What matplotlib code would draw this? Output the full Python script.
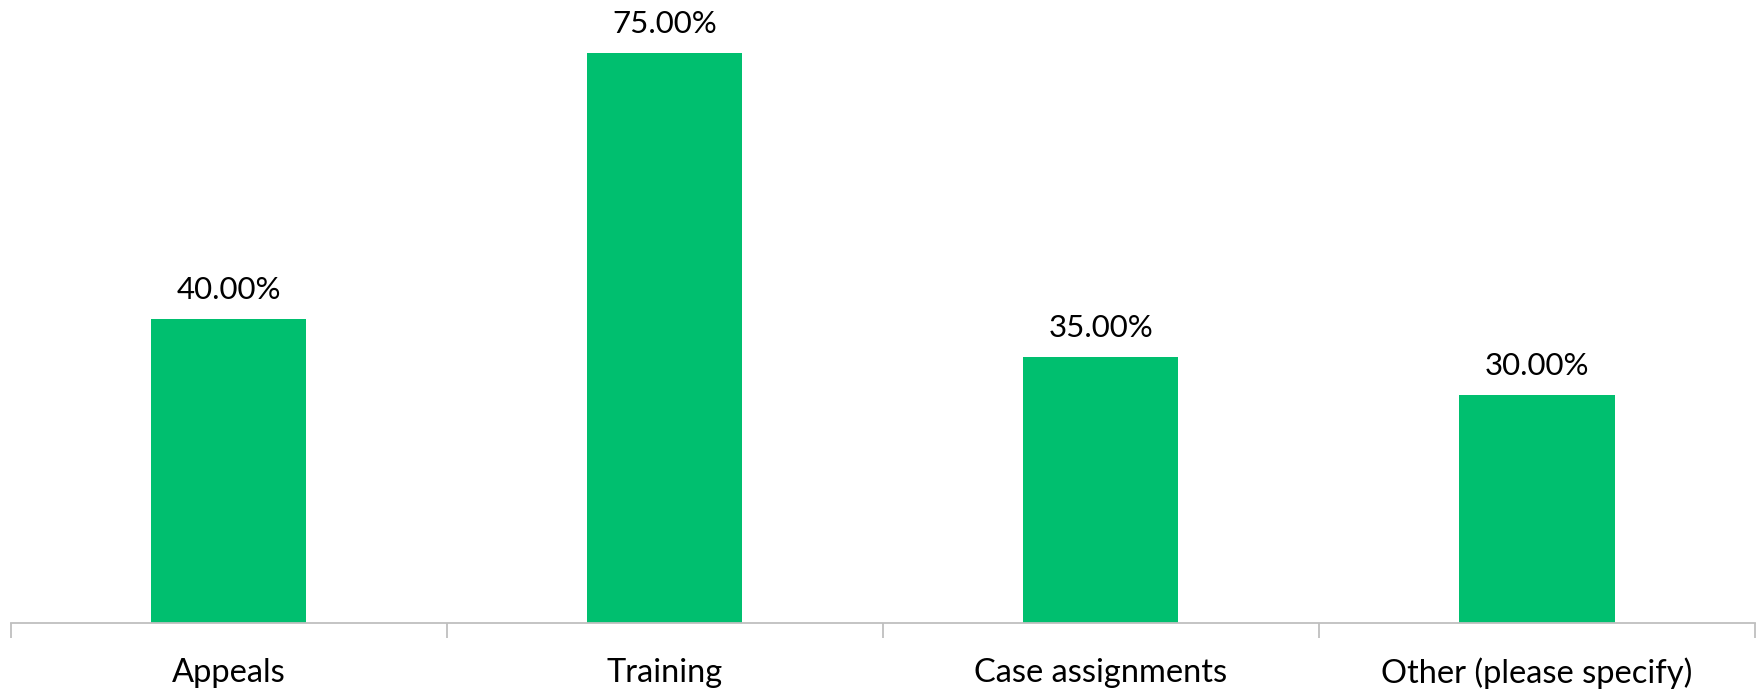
import matplotlib.pyplot as plt

# data
categories = ['Appeals', 'Training', 'Case assignments', 'Other (please specify)']
values = [40.0, 75.0, 35.0, 30.0]

bar_color = '#00BF6F'
axis_color = '#BFBFBF'

plt.rcParams['font.family'] = ['Lato', 'DejaVu Sans']

fig = plt.figure(figsize=(17.6, 6.9), dpi=100)
ax = fig.add_axes([10.5 / 1760, 1 - 623 / 690, (1755 - 10.5) / 1760, 608 / 690])

x = range(len(categories))
bars = ax.bar(x, values, width=0.356, color=bar_color, zorder=2)

for b, v in zip(bars, values):
    ax.annotate(f'{v:.2f}%', (b.get_x() + b.get_width() / 2, v),
                xytext=(0, 11), textcoords='offset points',
                ha='center', va='bottom', fontsize=22.5, color='black')

ax.set_xlim(-0.5, len(categories) - 0.5)
ax.set_ylim(0, 80)

# category labels, no major tick marks
ax.set_xticks(list(x))
ax.set_xticklabels(categories, fontsize=23.5)
ax.tick_params(axis='x', which='major', length=0, pad=25)

# boundary ticks between categories
ax.set_xticks([i - 0.5 for i in range(len(categories) + 1)], minor=True)
ax.tick_params(axis='x', which='minor', length=11, width=1.3, color=axis_color)

ax.set_yticks([])
for side in ['top', 'right', 'left']:
    ax.spines[side].set_visible(False)
ax.spines['bottom'].set_color(axis_color)
ax.spines['bottom'].set_linewidth(1.3)

fig.savefig('out.png', dpi=100)
